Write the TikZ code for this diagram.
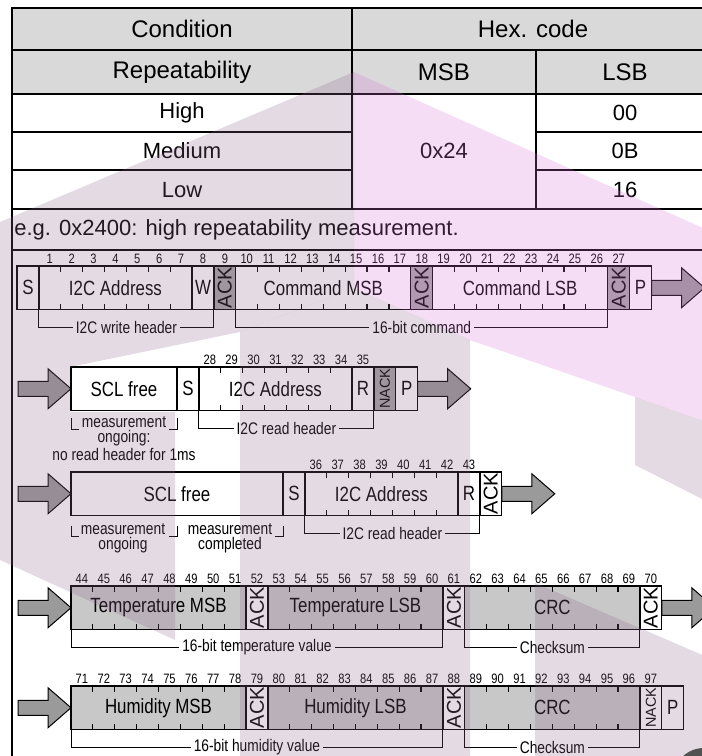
\documentclass[tikz,border=0pt]{standalone}
\usepackage{fontspec}
\setmainfont{Liberation Sans}
\newfontfamily\narrowfont{Liberation Sans}[FakeStretch=0.82]
\usetikzlibrary{positioning}

\newdimen\bitw \bitw=10.94pt
\definecolor{headgray}{HTML}{D9D9D9}
\definecolor{datagray}{HTML}{C8C8C8}
\definecolor{ackgray}{HTML}{A6A6A6}
\definecolor{arrowgray}{HTML}{9A9A9A}
\definecolor{marklilac}{rgb}{0.55,0.40,0.55}
\definecolor{markpink}{rgb}{0.85,0.45,0.85}

\tikzstyle{tableline} = [line width=1pt]
\tikzstyle{headtext} = [font=\fontsize{12}{14}\selectfont]
\tikzstyle{bodytext} = [font=\fontsize{11}{13}\selectfont]
\tikzstyle{cell} =
  [ rectangle
  , draw
  , line width=0.65pt
  , outer sep=0pt
  , inner sep=0pt
  , minimum height=21.75pt
  , font=\narrowfont\fontsize{10.3}{12}\selectfont
  ]
\tikzstyle{ackcell} =
  [ cell
  , minimum width=\bitw
  , font=\fontsize{10}{11}\selectfont
  ]
\tikzstyle{flowarrow} =
  [ draw
  , fill=arrowgray
  , line width=0.5pt
  , line join=miter
  ]
\tikzstyle{tick} = [line width=0.6pt]
\tikzstyle{bracket} = [line width=0.5pt]
\tikzstyle{brlabel} =
  [ fill=white
  , inner sep=1.5pt
  , font=\narrowfont\fontsize{8.4}{7.3}\selectfont
  ]
\tikzstyle{bitnum} = [inner sep=0pt, font=\narrowfont\fontsize{6.8}{7}\selectfont]

\def\ACK{\rotatebox{90}{ACK}}
\def\NACK{\rotatebox{90}{\fontsize{7.2}{8}\selectfont NACK}}

% ticks inside a multi-bit field
\newcommand\ticks[2]{%
  \foreach \k in {1,...,#2}{
    \draw[tick] ([xshift=\k*\bitw]#1.north west) -- ++(0pt,-3pt);
    \draw[tick] ([xshift=\k*\bitw]#1.south west) -- ++(0pt,3pt);
  }}
% bit numbers above a field
\newcommand\bitnums[3]{%
  \foreach \k in {1,...,#3}{
    \pgfmathtruncatemacro\bitno{#2+\k-1}
    \node[bitnum] (bit\bitno) at ([xshift=(\k-0.5)*\bitw, yshift=3.4pt]#1.north west) {\bitno};
  }}
% bracket below a group of fields
\newcommand\groupbracket[4]{%
  \draw[bracket] (#1.south west) -- ++(0pt,-9pt) -| node[brlabel, pos=0.25] (#4) {#3} (#2.south east);}
% fat arrows entering and leaving a row
\newcommand\flowout[2]{%
  \coordinate (#2) at (#1.east);
  \draw[flowarrow] (#2) ++(0pt,3.75pt) -- ++(15pt,0pt) -- ++(0pt,6.25pt) -- ++(11.5pt,-10pt)
    -- ++(-11.5pt,-10pt) -- ++(0pt,6.25pt) -- ++(-15pt,0pt) -- cycle;}
\newcommand\flowin[2]{%
  \coordinate (#2) at (#1.west);
  \draw[flowarrow] (#2) -- ++(-11.5pt,10pt) -- ++(0pt,-6.25pt) -- ++(-15pt,0pt)
    -- ++(0pt,-7.5pt) -- ++(15pt,0pt) -- ++(0pt,-6.25pt) -- cycle;}

\begin{document}
\begin{tikzpicture}[x=0.5pt, y=-0.5pt]
  \useasboundingbox (0,0) rectangle (702,756);
  \fill[white] (0,0) rectangle (702,756);

  % command table
  \fill[headgray] (12,8) rectangle (714,94);
  \draw[tableline] (714,8) -- (12,8) -- (12,760);
  \foreach \yy in {50,94,209,250}
    \draw[tableline] (12,\yy) -- (714,\yy);
  \foreach \yy in {132,170}{
    \draw[tableline] (12,\yy) -- (352,\yy);
    \draw[tableline] (536,\yy) -- (714,\yy);
  }
  \draw[tableline] (352,8) -- (352,209);
  \draw[tableline] (536,50) -- (536,209);

  \node[headtext] (condition) at (182,29)  {Condition};
  \node[headtext] (hexcode)   at (533,29)  {Hex. code};
  \node[headtext] (repeat)    at (182,72)  {Repeatability};
  \node[headtext] (msb_head)  at (444,72)  {MSB};
  \node[headtext] (lsb_head)  at (625,72)  {LSB};
  \node[bodytext] (high)      at (182,113) {High};
  \node[bodytext] (medium)    at (182,151) {Medium};
  \node[bodytext] (low)       at (182,190) {Low};
  \node[bodytext] (msb_val)   at (444,151) {0x24};
  \node[bodytext] (lsb_high)  at (625,113) {00};
  \node[bodytext] (lsb_med)   at (625,151) {0B};
  \node[bodytext] (lsb_low)   at (625,190) {16};
  \node[bodytext, anchor=west, inner sep=0pt] (example) at (14,230) {e.g. 0x2400: high repeatability measurement.};

  % write header and command
  \node[cell, anchor=north west, minimum width=\bitw] (s_one) at (17,266) {S};
  \node[cell, right=0pt of s_one, minimum width=7*\bitw] (addr_one) {I2C Address};
  \node[cell, right=0pt of addr_one, minimum width=\bitw] (w_one) {W};
  \node[ackcell, fill=ackgray, right=0pt of w_one] (ack_one_a) {\ACK};
  \node[cell, right=0pt of ack_one_a, minimum width=8*\bitw] (cmsb_one) {Command MSB};
  \node[ackcell, fill=ackgray, right=0pt of cmsb_one] (ack_one_b) {\ACK};
  \node[cell, right=0pt of ack_one_b, minimum width=8*\bitw] (clsb_one) {Command LSB};
  \node[ackcell, fill=ackgray, right=0pt of clsb_one] (ack_one_c) {\ACK};
  \node[cell, right=0pt of ack_one_c, minimum width=\bitw] (p_one) {P};
  \flowout{p_one}{out_one}
  \ticks{addr_one}{6} \ticks{cmsb_one}{7} \ticks{clsb_one}{7}
  \bitnums{addr_one}{1}{7} \bitnums{w_one}{8}{1} \bitnums{ack_one_a}{9}{1}
  \bitnums{cmsb_one}{10}{8} \bitnums{ack_one_b}{18}{1}
  \bitnums{clsb_one}{19}{8} \bitnums{ack_one_c}{27}{1}
  \groupbracket{addr_one}{w_one}{I2C write header}{wh_one}
  \groupbracket{cmsb_one}{clsb_one}{16-bit command}{cmd_one}

  % read header, measurement ongoing
  \node[cell, anchor=north west, minimum width=53pt] (scl_two) at (71,367) {SCL free};
  \flowin{scl_two}{in_two}
  \node[cell, right=0pt of scl_two, minimum width=\bitw] (s_two) {S};
  \node[cell, right=0pt of s_two, minimum width=7*\bitw] (addr_two) {I2C Address};
  \node[cell, right=0pt of addr_two, minimum width=\bitw] (r_two) {R};
  \node[ackcell, fill=ackgray, right=0pt of r_two] (nack_two) {\NACK};
  \node[cell, right=0pt of nack_two, minimum width=\bitw] (p_two) {P};
  \flowout{p_two}{out_two}
  \ticks{addr_two}{6}
  \bitnums{addr_two}{28}{7} \bitnums{r_two}{35}{1}
  \groupbracket{addr_two}{r_two}{I2C read header}{rh_two}
  \draw[bracket] ([yshift=-3.5pt]scl_two.south west) -- ++(0pt,-6pt) -- ++(4pt,0pt);
  \draw[bracket] ([yshift=-3.5pt]scl_two.south east) -- ++(0pt,-6pt) -- ++(-4pt,0pt);
  \node[brlabel, fill=none, inner sep=0pt, align=center, anchor=north] (ongoing_two)
    at ([yshift=-3pt]scl_two.south) {measurement\\ongoing:\\no read header for 1ms};

  % read header, measurement completed
  \node[cell, anchor=north west, minimum width=106pt] (scl_three) at (71,472) {SCL free};
  \flowin{scl_three}{in_three}
  \node[cell, right=0pt of scl_three, minimum width=\bitw] (s_three) {S};
  \node[cell, right=0pt of s_three, minimum width=7*\bitw] (addr_three) {I2C Address};
  \node[cell, right=0pt of addr_three, minimum width=\bitw] (r_three) {R};
  \node[ackcell, right=0pt of r_three] (ack_three) {\ACK};
  \flowout{ack_three}{out_three}
  \ticks{addr_three}{6}
  \bitnums{addr_three}{36}{7} \bitnums{r_three}{43}{1}
  \groupbracket{addr_three}{r_three}{I2C read header}{rh_three}
  \draw[bracket] ([yshift=-5pt]scl_three.south west) -- ++(0pt,-5.5pt) -- ++(4pt,0pt);
  \draw[bracket] ([xshift=-4pt, yshift=-10.5pt]scl_three.south) -- ++(4pt,0pt) -- ++(0pt,5.5pt);
  \draw[bracket] ([yshift=-5pt]scl_three.south east) -- ++(0pt,-5.5pt) -- ++(-4pt,0pt);
  \node[brlabel, fill=none, inner sep=0pt, align=center, anchor=north] (ongoing_three)
    at ([xshift=26pt, yshift=-4pt]scl_three.south west) {measurement\\ongoing};
  \node[brlabel, fill=none, inner sep=0pt, align=center, anchor=north] (completed_three)
    at ([xshift=79.5pt, yshift=-4pt]scl_three.south west) {measurement\\completed};

  % temperature
  \node[cell, fill=datagray, anchor=north west, minimum width=8*\bitw] (tmsb_four) at (71,586) {Temperature MSB};
  \flowin{tmsb_four}{in_four}
  \node[ackcell, fill=white, right=0pt of tmsb_four] (ack_four_a) {\ACK};
  \node[cell, fill=datagray, right=0pt of ack_four_a, minimum width=8*\bitw] (tlsb_four) {Temperature LSB};
  \node[ackcell, fill=white, right=0pt of tlsb_four] (ack_four_b) {\ACK};
  \node[cell, fill=datagray, right=0pt of ack_four_b, minimum width=8*\bitw] (crc_four) {CRC};
  \node[ackcell, fill=white, right=0pt of crc_four] (ack_four_c) {\ACK};
  \flowout{ack_four_c}{out_four}
  \ticks{tmsb_four}{7} \ticks{tlsb_four}{7} \ticks{crc_four}{7}
  \bitnums{tmsb_four}{44}{8} \bitnums{ack_four_a}{52}{1}
  \bitnums{tlsb_four}{53}{8} \bitnums{ack_four_b}{61}{1}
  \bitnums{crc_four}{62}{8} \bitnums{ack_four_c}{70}{1}
  \groupbracket{tmsb_four}{tlsb_four}{16-bit temperature value}{tv_four}
  \groupbracket{crc_four}{crc_four}{Checksum}{cs_four}

  % humidity
  \node[cell, fill=datagray, anchor=north west, minimum width=8*\bitw] (hmsb_five) at (71,686) {Humidity MSB};
  \flowin{hmsb_five}{in_five}
  \node[ackcell, fill=white, right=0pt of hmsb_five] (ack_five_a) {\ACK};
  \node[cell, fill=datagray, right=0pt of ack_five_a, minimum width=8*\bitw] (hlsb_five) {Humidity LSB};
  \node[ackcell, fill=white, right=0pt of hlsb_five] (ack_five_b) {\ACK};
  \node[cell, fill=datagray, right=0pt of ack_five_b, minimum width=8*\bitw] (crc_five) {CRC};
  \node[ackcell, fill=white, right=0pt of crc_five] (nack_five) {\NACK};
  \node[cell, right=0pt of nack_five, minimum width=\bitw] (p_five) {P};
  \ticks{hmsb_five}{7} \ticks{hlsb_five}{7} \ticks{crc_five}{7}
  \bitnums{hmsb_five}{71}{8} \bitnums{ack_five_a}{79}{1}
  \bitnums{hlsb_five}{80}{8} \bitnums{ack_five_b}{88}{1}
  \bitnums{crc_five}{89}{8} \bitnums{nack_five}{97}{1}
  \groupbracket{hmsb_five}{hlsb_five}{16-bit humidity value}{hv_five}
  \groupbracket{crc_five}{crc_five}{Checksum}{cs_five}

  % watermark
  \begin{scope}[fill opacity=0.24]
    \fill[markpink] (354,72) -- (714,233) -- (714,425) -- (635,397) -- (470,340) -- (354,288) -- cycle;
    \fill[marklilac] (354,72) -- (0,222) -- (0,560) -- (175,640) -- (175,412) -- (70,412)
      -- (70,367) -- (240,332) -- (354,288) -- cycle;
    \fill[marklilac] (240,332) -- (354,288) -- (470,340) -- (470,760) -- (240,760) -- cycle;
    \fill[marklilac] (635,397) -- (714,425) -- (714,505) -- (635,465) -- cycle;
    \fill[marklilac] (535,583) -- (714,660) -- (714,760) -- (535,760) -- cycle;
  \end{scope}
  \fill[black!68] (704,779) circle (15.5pt);
\end{tikzpicture}
\end{document}
